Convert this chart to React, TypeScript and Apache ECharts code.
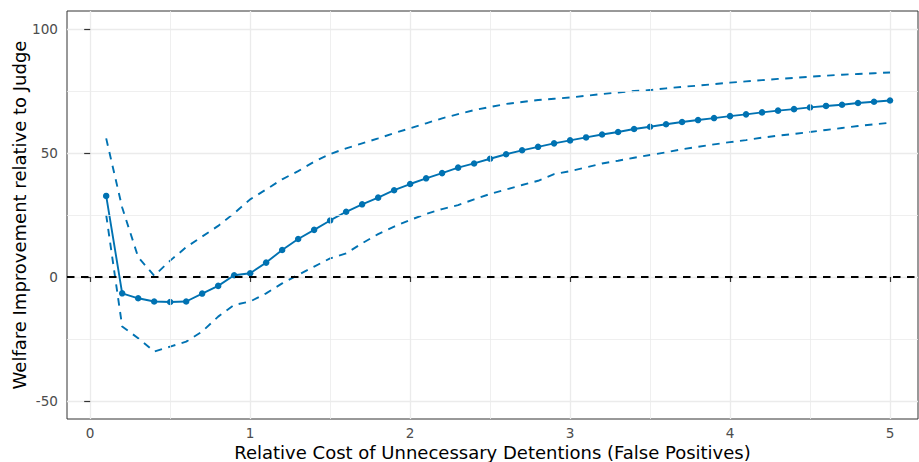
import React, { useEffect, useRef } from "react";
import * as echarts from "echarts";

const costs = [
  0.1, 0.2, 0.3, 0.4, 0.5, 0.6, 0.7, 0.8, 0.9, 1.0,
  1.1, 1.2, 1.3, 1.4, 1.5, 1.6, 1.7, 1.8, 1.9, 2.0,
  2.1, 2.2, 2.3, 2.4, 2.5, 2.6, 2.7, 2.8, 2.9, 3.0,
  3.1, 3.2, 3.3, 3.4, 3.5, 3.6, 3.7, 3.8, 3.9, 4.0,
  4.1, 4.2, 4.3, 4.4, 4.5, 4.6, 4.7, 4.8, 4.9, 5.0,
];

const estimate = [
  32.7, -6.6, -8.6, -9.9, -10.1, -9.9, -6.7, -3.6, 0.7, 1.5,
  5.8, 10.9, 15.3, 19.0, 22.8, 26.3, 29.3, 32.0, 35.0, 37.5,
  39.8, 41.9, 44.1, 45.8, 47.7, 49.5, 51.1, 52.5, 53.9, 55.1,
  56.3, 57.5, 58.5, 59.7, 60.6, 61.6, 62.5, 63.3, 64.1, 64.9,
  65.6, 66.4, 67.1, 67.7, 68.4, 69.0, 69.5, 70.2, 70.7, 71.2,
];

const upper = [
  55.9, 28.0, 8.0, 0.5, 6.6, 12.0, 16.3, 20.6, 25.7, 31.3,
  35.3, 39.4, 42.7, 46.5, 49.6, 51.9, 53.9, 55.9, 58.0, 60.0,
  62.0, 64.0, 65.7, 67.3, 68.6, 69.8, 70.6, 71.4, 71.9, 72.4,
  73.1, 73.8, 74.4, 75.0, 75.4, 76.1, 76.7, 77.2, 77.8, 78.4,
  78.9, 79.4, 79.9, 80.3, 80.8, 81.2, 81.6, 81.9, 82.2, 82.5,
];

const lower = [
  25.0, -20.0, -24.7, -30.1, -28.1, -26.1, -22.0, -16.0, -11.3, -9.9,
  -6.6, -2.6, 0.8, 4.2, 7.5, 9.5, 13.6, 17.3, 20.3, 23.0,
  25.4, 27.4, 29.0, 31.3, 33.5, 35.3, 37.1, 38.8, 41.5, 42.7,
  44.2, 45.8, 46.9, 48.1, 49.2, 50.3, 51.5, 52.5, 53.5, 54.4,
  55.2, 56.2, 57.0, 57.7, 58.5, 59.3, 60.1, 60.9, 61.6, 62.2,
];

const xTicks = [0, 1, 2, 3, 4, 5];
const xMinor = [0.5, 1.5, 2.5, 3.5, 4.5];
const yTicks = [-50, 0, 50, 100];
const yMinor = [-25, 25, 75];

const BLUE = "#0072B2";
const FONT = "DejaVu Sans";

export default function App() {
  const ref = useRef<HTMLDivElement>(null);
  useEffect(() => {
    if (!ref.current) return;
    const chart = echarts.init(ref.current, undefined, { renderer: "svg" });
    const pairs = (ys: number[]) => costs.map((x, i) => [x, ys[i]]);
    const gridMark = {
      silent: true,
      symbol: ["none", "none"],
      label: { show: false },
      animation: false,
      data: [
        ...xMinor.map((v) => ({ xAxis: v, lineStyle: { color: "#ebebeb", width: 0.8, type: "solid" } })),
        ...yMinor.map((v) => ({ yAxis: v, lineStyle: { color: "#ebebeb", width: 0.8, type: "solid" } })),
      ],
    };
    chart.setOption({
      animation: false,
      backgroundColor: "#ffffff",
      grid: {
        left: 67,
        right: 1,
        top: 11,
        bottom: 43,
        containLabel: false,
        outerBoundsMode: "none",
        show: true,
        borderColor: "#333333",
        borderWidth: 1,
        backgroundColor: "transparent",
      },
      xAxis: {
        type: "value",
        min: -0.145,
        max: 5.175,
        name: "Relative Cost of Unnecessary Detentions (False Positives)",
        nameLocation: "middle",
        nameGap: 24,
        nameMoveOverlap: false,
        nameTextStyle: { fontFamily: FONT, fontSize: 18, color: "#000000" },
        axisLine: { show: false },
        axisTick: { show: true, length: 5, customValues: xTicks, lineStyle: { color: "#333333", width: 1.2 } },
        axisLabel: { customValues: xTicks, fontFamily: FONT, fontSize: 13.6, color: "#4d4d4d", margin: 7 },
        splitLine: { show: true, lineStyle: { color: "#ebebeb", width: 1.3 } },
      },
      yAxis: {
        type: "value",
        min: -57.3,
        max: 107.3,
        name: "Welfare Improvement relative to Judge",
        nameLocation: "middle",
        nameGap: 39,
        nameMoveOverlap: false,
        nameTextStyle: { fontFamily: FONT, fontSize: 18, color: "#000000" },
        axisLine: { show: false },
        axisTick: { show: true, length: 6, customValues: yTicks, lineStyle: { color: "#333333", width: 1.2 } },
        axisLabel: { customValues: yTicks, fontFamily: FONT, fontSize: 13.6, color: "#4d4d4d", margin: 9 },
        splitLine: { show: true, lineStyle: { color: "#ebebeb", width: 1.3 } },
      },
      series: [
        {
          type: "line",
          name: "grid",
          data: [],
          silent: true,
          z: 0,
          markLine: gridMark,
        },
        {
          type: "line",
          name: "upper",
          data: pairs(upper),
          showSymbol: false,
          symbol: "none",
          lineStyle: { color: BLUE, width: 1.9, type: [7.5, 6.5] },
          z: 2,
        },
        {
          type: "line",
          name: "lower",
          data: pairs(lower),
          showSymbol: false,
          symbol: "none",
          lineStyle: { color: BLUE, width: 1.9, type: [7.5, 6.5] },
          z: 2,
        },
        {
          type: "line",
          name: "estimate",
          data: pairs(estimate),
          symbol: "circle",
          symbolSize: 6.5,
          itemStyle: { color: BLUE },
          lineStyle: { color: BLUE, width: 1.9 },
          z: 4,
          markLine: {
            silent: true,
            symbol: ["none", "none"],
            label: { show: false },
            lineStyle: { color: "#000000", width: 1.8, type: [7.5, 6.5] },
            data: [{ yAxis: 0 }],
          },
        },
      ],
    });
    return () => chart.dispose();
  }, []);
  return (
    <div
      ref={ref}
      style={{ position: "fixed", left: 0, top: 0, width: 919, height: 462, background: "#ffffff" }}
    />
  );
}
